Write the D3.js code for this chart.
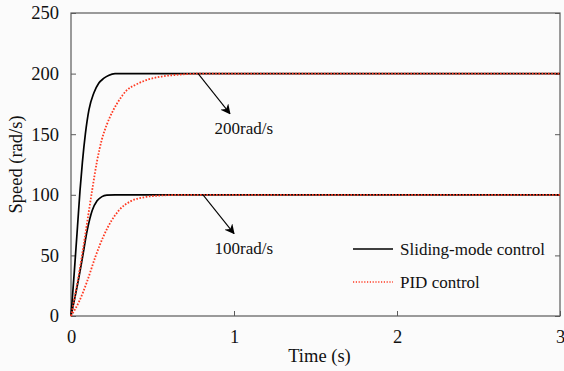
<!DOCTYPE html>
<html><head><meta charset="utf-8">
<script src="https://cdn.jsdelivr.net/npm/d3@7"></script>
<style>body{margin:0;background:#fbfbfb;} svg{display:block;}</style>
</head><body>
<script>
// ---- data ----
const xTicks = [0, 1, 2, 3];
const yTicks = [0, 50, 100, 150, 200, 250];
const smc200T = [0, 0.02, 0.04, 0.055, 0.07, 0.088, 0.11, 0.14, 0.17, 0.2, 0.23, 0.27, 0.35, 3];
const smc200V = [0, 36, 74, 103, 127, 150, 170, 184, 192, 196, 198.5, 200, 200, 200];
const pid200T = [0, 0.04, 0.07, 0.1, 0.13, 0.16, 0.19, 0.22, 0.26, 0.3, 0.34, 0.4, 0.47, 0.55, 0.65, 0.8, 3];
const pid200V = [0, 28, 52, 78, 104, 128, 146, 158, 170, 179, 186, 191, 195, 197.5, 199, 200, 200];
const smc100T = [0, 0.025, 0.05, 0.07, 0.1, 0.13, 0.16, 0.19, 0.22, 0.27, 3];
const smc100V = [0, 16, 33, 48, 71, 87, 95, 98.5, 99.7, 100, 100];
const pid100T = [0, 0.05, 0.1, 0.15, 0.2, 0.25, 0.3, 0.37, 0.45, 0.55, 0.7, 3];
const pid100V = [0, 12, 29, 49, 66, 79, 88, 95, 98, 99.4, 100, 100];
const legendLabels = ["Sliding-mode control", "PID control"];
const annotations = [
  {label: "200rad/s", from: [0.78, 200], to: [0.975, 167], text: [1.06, 150]},
  {label: "100rad/s", from: [0.81, 100], to: [1.0, 68], text: [1.06, 51]}
];

// ---- layout ----
const W = 564, H = 371;
const m = {l: 71, r: 4, t: 13, b: 55};
const svg = d3.select("body").append("svg").attr("width", W).attr("height", H);
const x = d3.scaleLinear().domain([0, 3]).range([m.l, W - m.r]);
const y = d3.scaleLinear().domain([0, 250]).range([H - m.b, m.t]);
const font = "'Liberation Serif','Times New Roman',serif";
const frame = "#5a5a5a";
const red = "#ff3a22";

svg.append("rect").attr("width", W).attr("height", H).attr("fill", "#fbfbfb");

const tickLen = 5;
const gx = svg.append("g").attr("transform", `translate(0,${y(0)})`)
  .call(d3.axisBottom(x).tickValues(xTicks).tickSizeInner(-tickLen).tickSizeOuter(0).tickPadding(14).tickFormat(d3.format("d")));
const gy = svg.append("g").attr("transform", `translate(${x(0)},0)`)
  .call(d3.axisLeft(y).tickValues(yTicks).tickSizeInner(-tickLen).tickSizeOuter(0).tickPadding(12).tickFormat(d3.format("d")));
const gyr = svg.append("g").attr("transform", `translate(${x(3)},0)`)
  .call(d3.axisRight(y).tickValues(yTicks).tickSizeInner(-tickLen).tickSizeOuter(0).tickFormat(""));
[gx, gy, gyr].forEach(g => {
  g.select(".domain").remove();
  g.selectAll("line").attr("stroke", frame);
  g.selectAll("text").attr("font-family", font).attr("font-size", 18.5).attr("fill", "#111");
});
svg.append("rect").attr("x", x(0)).attr("y", y(250)).attr("width", x(3) - x(0)).attr("height", y(0) - y(250))
  .attr("fill", "none").attr("stroke", frame).attr("stroke-width", 1.2);

// axis titles
svg.append("text").attr("x", (x(0) + x(3)) / 2 + 4).attr("y", 362).attr("text-anchor", "middle")
  .attr("font-family", font).attr("font-size", 18.5).attr("fill", "#111").text("Time (s)");
svg.append("text").attr("transform", `translate(22,${(y(0) + y(250)) / 2}) rotate(-90)`).attr("text-anchor", "middle")
  .attr("font-family", font).attr("font-size", 18.5).attr("fill", "#111").text("Speed (rad/s)");

// lines
const line = d3.line().x(d => x(d[0])).y(d => y(d[1])).curve(d3.curveMonotoneX);
const zip = (a, b) => a.map((t, i) => [t, b[i]]);
const plot = svg.append("g");
[zip(smc200T, smc200V), zip(smc100T, smc100V)].forEach(d =>
  plot.append("path").attr("d", line(d)).attr("fill", "none").attr("stroke", "#000").attr("stroke-width", 1.7));
[zip(pid200T, pid200V), zip(pid100T, pid100V)].forEach(d =>
  plot.append("path").attr("d", line(d)).attr("fill", "none").attr("stroke", red).attr("stroke-width", 1.8)
    .attr("stroke-dasharray", "1.6,1.6"));

// annotations
svg.append("defs").append("marker").attr("id", "ah").attr("viewBox", "0 0 10 10").attr("refX", 9).attr("refY", 5)
  .attr("markerWidth", 10).attr("markerHeight", 10).attr("orient", "auto-start-reverse").attr("markerUnits", "userSpaceOnUse")
  .append("path").attr("d", "M0,0 L10,5 L0,10 L3,5 Z").attr("fill", "#000");
annotations.forEach(a => {
  svg.append("line").attr("x1", x(a.from[0])).attr("y1", y(a.from[1])).attr("x2", x(a.to[0])).attr("y2", y(a.to[1]))
    .attr("stroke", "#000").attr("stroke-width", 1.1).attr("marker-end", "url(#ah)");
  svg.append("text").attr("x", x(a.text[0])).attr("y", y(a.text[1])).attr("text-anchor", "middle")
    .attr("font-family", font).attr("font-size", 17).attr("fill", "#111").text(a.label);
});

// legend
const lg = svg.append("g");
const ly = [249, 282];
lg.append("line").attr("x1", 353).attr("x2", 393).attr("y1", ly[0]).attr("y2", ly[0]).attr("stroke", "#000").attr("stroke-width", 1.7);
lg.append("line").attr("x1", 353).attr("x2", 393).attr("y1", ly[1]).attr("y2", ly[1]).attr("stroke", red).attr("stroke-width", 1.3).attr("stroke-dasharray", "1.2,1.6");
legendLabels.forEach((t, i) => lg.append("text").attr("x", 400).attr("y", ly[i] + 5.5)
  .attr("font-family", font).attr("font-size", 17).attr("fill", "#111").text(t));
</script>
</body></html>
